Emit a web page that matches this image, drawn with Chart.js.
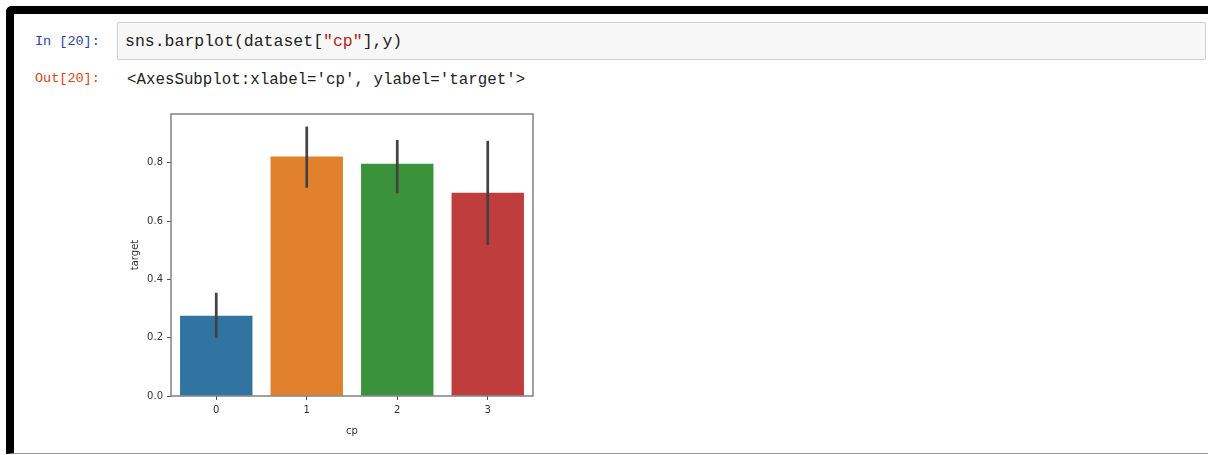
<!DOCTYPE html>
<html>
<head>
<meta charset="utf-8">
<script src="https://cdn.jsdelivr.net/npm/chart.js@4/dist/chart.umd.min.js"></script>
<style>
  html, body { margin: 0; padding: 0; background: #fff; width: 1208px; height: 455px; overflow: hidden; }
  #frame {
    position: absolute; left: 6px; top: 6px; width: 1220px; height: 439px;
    border-top: 8px solid #000; border-left: 8px solid #000;
    border-bottom: 1px solid #9a9a9a; border-top-left-radius: 6px;
  }
  .mono { position: absolute; font-family: "Liberation Mono", "Courier New", monospace; white-space: pre; }
  .prompt-in { color: #303F9F; font-size: 13.5px; }
  .prompt-out { color: #D84315; font-size: 13.5px; }
  #inbox {
    position: absolute; left: 117px; top: 22px; width: 1087px; height: 36px;
    background: #f7f7f7; border: 1px solid #cfcfcf; border-radius: 2px;
  }
  .str { color: #ba2121; }
  #plot { position: absolute; left: 120px; top: 100px; width: 430px; height: 345px; }
</style>
</head>
<body>
<div id="frame"></div>
<div id="inbox"></div>
<div class="mono prompt-in" style="left:35px; top:32px; line-height:20px;">In [20]:</div>
<div class="mono" style="left:125px; top:32px; line-height:20px; font-size:16.5px; color:#222;">sns.barplot(dataset[<span class="str">"cp"</span>],y)</div>
<div class="mono prompt-out" style="left:35px; top:69px; line-height:20px;">Out[20]:</div>
<div class="mono" style="left:127px; top:70px; line-height:20px; font-size:15.8px; color:#222;">&lt;AxesSubplot:xlabel='cp', ylabel='target'&gt;</div>
<div id="plot"><canvas id="c" width="430" height="345"></canvas></div>
<script>
// categories of chest-pain type and mean target per category
const categories = ['0', '1', '2', '3'];
const meanTarget = [0.275, 0.821, 0.796, 0.697];
// 95% confidence interval bounds
const ciLow = [0.199, 0.714, 0.695, 0.518];
const ciHigh = [0.354, 0.924, 0.878, 0.875];
const yTicks = [0.0, 0.2, 0.4, 0.6, 0.8];
const barColors = ['#3274a1', '#e1812c', '#3a923a', '#c03d3e'];

const tickFont = { family: 'DejaVu Sans', size: 10 };
const textColor = '#333333';

// black confidence-interval lines over each bar
const errorBars = {
  id: 'errorBars',
  afterDatasetsDraw(chart) {
    const { ctx, scales: { x, y } } = chart;
    ctx.save();
    ctx.strokeStyle = '#424242';
    ctx.lineWidth = 2.7;
    ctx.lineCap = 'butt';
    categories.forEach((c, i) => {
      const px = x.getPixelForValue(i);
      ctx.beginPath();
      ctx.moveTo(px, y.getPixelForValue(ciLow[i]));
      ctx.lineTo(px, y.getPixelForValue(ciHigh[i]));
      ctx.stroke();
    });
    ctx.restore();
  }
};

// four-sided axes frame
const axesFrame = {
  id: 'axesFrame',
  afterDraw(chart) {
    const { ctx, chartArea: a } = chart;
    ctx.save();
    ctx.strokeStyle = '#6e6e6e';
    ctx.lineWidth = 1.3;
    ctx.strokeRect(a.left, a.top, a.right - a.left, a.bottom - a.top);
    ctx.restore();
  }
};

new Chart(document.getElementById('c'), {
  type: 'bar',
  data: {
    labels: categories,
    datasets: [{
      data: meanTarget,
      backgroundColor: barColors,
      borderWidth: 0,
      categoryPercentage: 1.0,
      barPercentage: 0.8
    }]
  },
  options: {
    responsive: false,
    devicePixelRatio: 1,
    animation: false,
    layout: { padding: { top: 14, right: 17, left: 0, bottom: 0 } },
    plugins: { legend: { display: false }, tooltip: { enabled: false } },
    scales: {
      x: {
        offset: true,
        afterFit(s) { s.height = 49; },
        border: { display: false },
        grid: { display: true, drawOnChartArea: false, drawTicks: true, tickLength: 4, tickColor: '#555', offset: false },
        ticks: { font: tickFont, color: textColor, padding: 4, maxRotation: 0 },
        title: { display: true, text: 'cp', font: tickFont, color: textColor, padding: { top: 0, bottom: 8 } }
      },
      y: {
        min: 0,
        max: 0.967,
        afterFit(s) { s.width = 51; },
        afterBuildTicks(s) { s.ticks = yTicks.map(v => ({ value: v })); },
        border: { display: false },
        grid: { display: true, drawOnChartArea: false, drawTicks: true, tickLength: 4, tickColor: '#555' },
        ticks: { font: tickFont, color: textColor, padding: 4, callback: v => Number(v).toFixed(1) },
        title: { display: true, text: 'target', font: tickFont, color: textColor, padding: { top: 9, bottom: 0 } }
      }
    }
  },
  plugins: [errorBars, axesFrame]
});
</script>
</body>
</html>
